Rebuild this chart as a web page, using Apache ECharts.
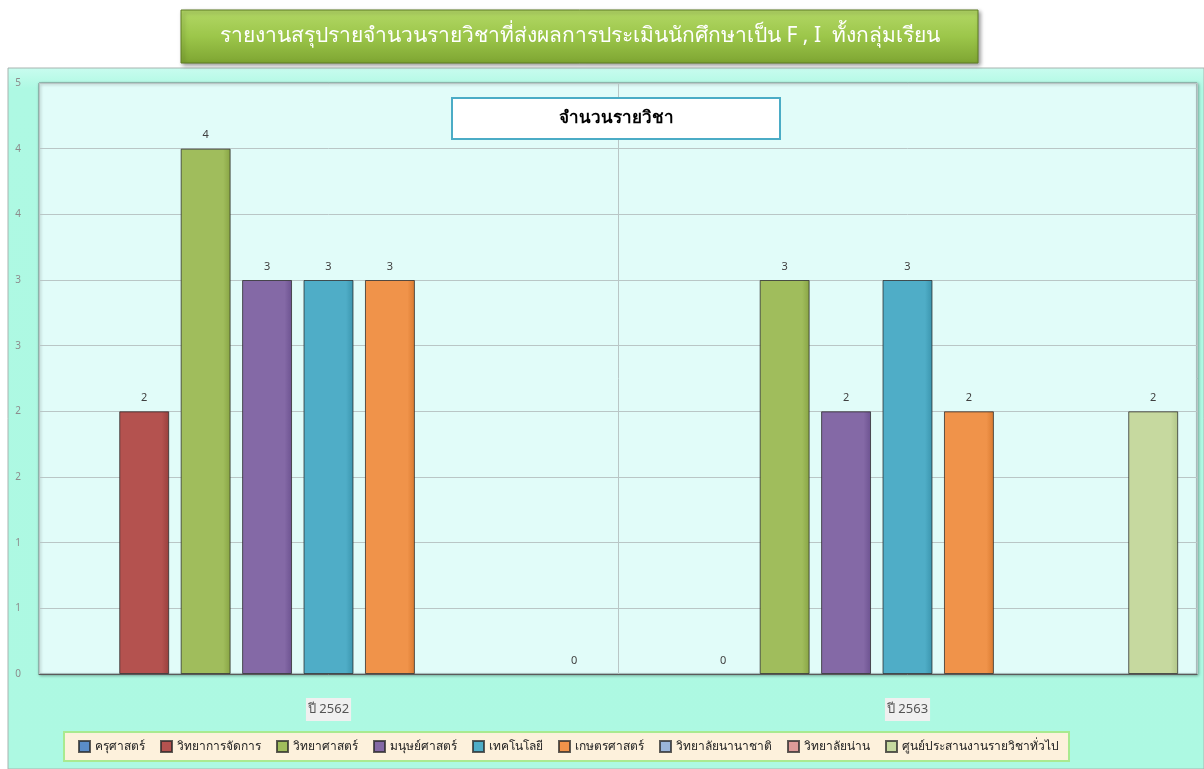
<!DOCTYPE html>
<html>
<head>
<meta charset="utf-8">
<script src="https://cdn.jsdelivr.net/npm/echarts@6/dist/echarts.min.js"></script>
<style>
  html, body { margin: 0; padding: 0; background: #fff; }
  #chart { width: 1204px; height: 769px; }
</style>
</head>
<body>
<div id="chart"></div>
<script>
var years = ['ปี 2562', 'ปี 2563'];
var faculties = ['ครุศาสตร์', 'วิทยาการจัดการ', 'วิทยาศาสตร์', 'มนุษย์ศาสตร์', 'เทคโนโลยี',
    'เกษตรศาสตร์', 'วิทยาลัยนานาชาติ', 'วิทยาลัยน่าน', 'ศูนย์ประสานงานรายวิชาทั่วไป'];
// '-' = no value in that year
var kru = ['-', '-'];
var management = [2, 0];
var science = [4, 3];
var humanities = [3, 2];
var technology = [3, 3];
var agriculture = [3, 2];
var international = ['-', '-'];
var nan = ['-', '-'];
var generalCenter = [0, 2];
var seriesValues = [kru, management, science, humanities, technology, agriculture, international, nan, generalCenter];

var barColors = [
    ['#5a8cc8', '#3f6ea8'],
    ['#b4524f', '#983f3c'],
    ['#a0bd5c', '#88a444'],
    ['#8469a6', '#6c5290'],
    ['#4fadc7', '#3a94ad'],
    ['#f0934a', '#d97a30'],
    ['#9ab5da', '#84a0c6'],
    ['#dd9b99', '#c8817f'],
    ['#c6d99f', '#b0c687']
];

var font = 'Tahoma, "Noto Sans", sans-serif';

var chartEl = document.getElementById('chart');
var chart = echarts.init(chartEl);

var series = faculties.map(function (name, i) {
    return {
        name: name,
        type: 'bar',
        // zero-height bars get no outline, like the original
        data: seriesValues[i].map(function (v) {
            return v === 0 ? { value: 0, itemStyle: { borderWidth: 0 } } : v;
        }),
        barGap: '23%',
        barCategoryGap: '6.5%',
        itemStyle: {
            color: new echarts.graphic.LinearGradient(0, 0, 1, 0, [
                { offset: 0, color: barColors[i][0] },
                { offset: 0.85, color: barColors[i][0] },
                { offset: 1, color: barColors[i][1] }
            ]),
            borderColor: 'rgba(40,40,40,0.75)',
            borderWidth: 1
        },
        label: {
            show: true,
            position: 'top',
            distance: 8,
            color: '#404040',
            fontSize: 11,
            fontFamily: font
        }
    };
});

chart.setOption({
    animation: false,
    textStyle: { fontFamily: font },
    color: barColors.map(function (c) { return c[0]; }),

    graphic: [
        {
            type: 'rect',
            z: -10,
            shape: { x: 8, y: 68, width: 1196, height: 701 },
            style: {
                fill: new echarts.graphic.LinearGradient(0, 0, 0, 1, [
                    { offset: 0, color: '#c9fcef' },
                    { offset: 0.03, color: '#aef9e3' },
                    { offset: 1, color: '#adf9e2' }
                ]),
                stroke: '#a8b4b0',
                lineWidth: 1
            }
        },
        {
            type: 'rect',
            shape: { x: 181, y: 10, width: 797, height: 53 },
            style: {
                fill: new echarts.graphic.LinearGradient(0, 0, 0, 1, [
                    { offset: 0, color: '#b3d866' },
                    { offset: 0.5, color: '#9cc64a' },
                    { offset: 1, color: '#7ea532' }
                ]),
                stroke: '#5e7d24',
                lineWidth: 1,
                shadowBlur: 4,
                shadowOffsetX: 2,
                shadowOffsetY: 2,
                shadowColor: 'rgba(0,0,0,0.4)'
            }
        },
        {
            type: 'text',
            x: 580,
            y: 36,
            style: {
                text: 'รายงานสรุปรายจำนวนรายวิชาที่ส่งผลการประเมินนักศึกษาเป็น F , I  ทั้งกลุ่มเรียน',
                fill: '#ffffff',
                font: '21px ' + font,
                align: 'center',
                verticalAlign: 'middle'
            }
        },
        {
            type: 'rect',
            z: 10,
            shape: { x: 452, y: 98, width: 328, height: 41 },
            style: { fill: '#ffffff', stroke: '#4bacc6', lineWidth: 2 }
        },
        {
            type: 'text',
            z: 11,
            x: 616,
            y: 118,
            style: {
                text: 'จำนวนรายวิชา',
                fill: '#000000',
                font: 'bold 17px ' + font,
                align: 'center',
                verticalAlign: 'middle'
            }
        }
    ],

    grid: {
        left: 39,
        right: 7,
        top: 83,
        bottom: 95,
        show: true,
        backgroundColor: '#e1fcf9',
        borderColor: '#7a8a8a',
        borderWidth: 1,
        shadowBlur: 3,
        shadowOffsetX: 1,
        shadowOffsetY: 1,
        shadowColor: 'rgba(0,0,0,0.35)'
    },

    legend: {
        data: faculties,
        left: 64,
        top: 732,
        width: 1130,
        padding: [8, 10, 8, 14],
        backgroundColor: '#fdf1dc',
        borderColor: '#a9ea90',
        borderWidth: 2,
        icon: 'rect',
        itemWidth: 11,
        itemHeight: 11,
        itemGap: 15,
        textStyle: { fontSize: 12, color: '#222', fontFamily: font }
    },

    xAxis: {
        type: 'category',
        data: years,
        axisLine: { lineStyle: { color: '#5a5a5a', width: 1 } },
        axisTick: { show: false },
        splitLine: { show: true, lineStyle: { color: '#b9c6c6' } },
        axisLabel: {
            margin: 24,
            color: '#555',
            fontSize: 13,
            backgroundColor: '#f0f0f0',
            padding: [5, 2, 5, 2]
        }
    },

    yAxis: {
        type: 'value',
        min: 0,
        max: 4.5,
        interval: 0.5,
        axisLine: { show: false },
        axisTick: { show: false },
        splitLine: { lineStyle: { color: '#b9c6c6' } },
        axisLabel: {
            margin: 18,
            color: '#8c8c8c',
            fontSize: 10,
            formatter: function (v) { return Math.round(v); }
        }
    },

    series: series
});
</script>
</body>
</html>
